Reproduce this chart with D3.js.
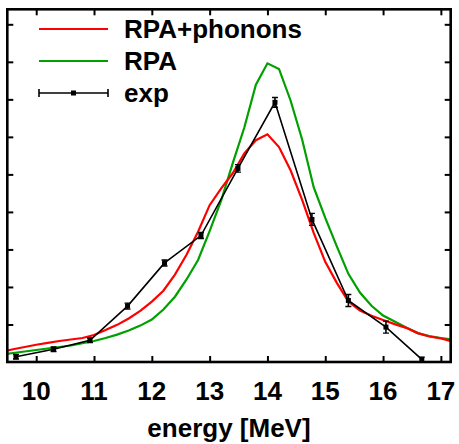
<!DOCTYPE html>
<html><head><meta charset="utf-8">
<script src="https://cdn.jsdelivr.net/npm/d3@7"></script>
<style>body{margin:0;background:#fff}svg{display:block}text{font-family:"Liberation Sans",Arial,sans-serif;font-weight:bold}</style>
</head><body>
<script>
const energyGrid = [9.4,9.6,9.8,10.0,10.2,10.4,10.6,10.8,11.0,11.2,11.4,11.6,11.8,12.0,12.2,12.4,12.6,12.8,13.0,13.2,13.4,13.6,13.8,14.0,14.2,14.4,14.6,14.8,15.0,15.2,15.4,15.6,15.8,16.0,16.2,16.4,16.6,16.8,17.0,17.2];
const rpaPhonons = [0.27,0.34,0.40,0.46,0.51,0.56,0.60,0.64,0.72,0.85,0.99,1.16,1.36,1.61,1.90,2.33,2.86,3.47,4.18,4.63,5.03,5.56,5.91,6.07,5.73,5.11,4.32,3.44,2.67,2.11,1.61,1.37,1.23,1.12,1.01,0.91,0.77,0.68,0.63,0.55];
const rpa = [0.20,0.24,0.28,0.32,0.36,0.40,0.44,0.50,0.56,0.64,0.73,0.84,0.97,1.13,1.40,1.74,2.20,2.72,3.49,4.31,5.30,6.25,7.39,7.96,7.81,6.97,5.93,4.66,3.84,3.08,2.35,1.85,1.50,1.24,1.08,0.92,0.77,0.69,0.64,0.60];
const expEnergy = [9.65,10.30,10.93,11.58,12.22,12.85,13.49,14.13,14.77,15.40,16.05,16.67];
const expValue = [0.14,0.34,0.58,1.49,2.64,3.37,5.16,6.92,3.80,1.64,0.93,0.07];
const expError = [0.06,0.06,0.06,0.08,0.08,0.08,0.1,0.13,0.16,0.16,0.16,0.06];
const xTicks = [10,11,12,13,14,15,16,17];
const yTicks = [1,2,3,4,5,6,7,8,9];
const legendLabels = ["RPA+phonons","RPA","exp"];

const W=459,H=444, L=7.3, R=450.7, T=9.3, B=362;
const svg=d3.select("body").append("svg").attr("width",W).attr("height",H);
const x=d3.scaleLinear().domain([9.5,17.17]).range([L,R]);
const y=d3.scaleLinear().domain([0,9.4]).range([B,T]);

svg.append("clipPath").attr("id","clip").append("rect").attr("x",L).attr("y",T).attr("width",R-L).attr("height",B-T);
const g=svg.append("g").attr("clip-path","url(#clip)");
const line=d3.line().x(d=>x(d[0])).y(d=>y(d[1]));
g.append("path").datum(energyGrid.map((e,i)=>[e,rpa[i]])).attr("d",line).attr("fill","none").attr("stroke","#00a000").attr("stroke-width",2.2);
g.append("path").datum(energyGrid.map((e,i)=>[e,rpaPhonons[i]])).attr("d",line).attr("fill","none").attr("stroke","#ff0000").attr("stroke-width",2.2);
const ex=expEnergy.map((e,i)=>[e,expValue[i],expError[i]]);
g.append("path").datum(ex).attr("d",line).attr("fill","none").attr("stroke","#000").attr("stroke-width",1.6);
const eg=g.selectAll(".eb").data(ex).join("g");
eg.append("line").attr("x1",d=>x(d[0])).attr("x2",d=>x(d[0])).attr("y1",d=>y(d[1]-d[2])).attr("y2",d=>y(d[1]+d[2])).attr("stroke","#000").attr("stroke-width",1.6);
eg.append("line").attr("x1",d=>x(d[0])-3).attr("x2",d=>x(d[0])+3).attr("y1",d=>y(d[1]-d[2])).attr("y2",d=>y(d[1]-d[2])).attr("stroke","#000").attr("stroke-width",1.4);
eg.append("line").attr("x1",d=>x(d[0])-3).attr("x2",d=>x(d[0])+3).attr("y1",d=>y(d[1]+d[2])).attr("y2",d=>y(d[1]+d[2])).attr("stroke","#000").attr("stroke-width",1.4);
eg.append("rect").attr("x",d=>x(d[0])-2.5).attr("y",d=>y(d[1])-2.5).attr("width",5).attr("height",5).attr("fill","#000");

// axes (inward ticks, mirrored)
const tl=6;
svg.append("g").attr("transform",`translate(0,${B})`).call(d3.axisBottom(x).tickValues(xTicks).tickSize(-tl).tickFormat("")).call(a=>a.select(".domain").remove()).selectAll("line").attr("stroke-width",2);
svg.append("g").attr("transform",`translate(0,${T})`).call(d3.axisTop(x).tickValues(xTicks).tickSize(-tl).tickFormat("")).call(a=>a.select(".domain").remove()).selectAll("line").attr("stroke-width",2);
svg.append("g").attr("transform",`translate(${L},0)`).call(d3.axisLeft(y).tickValues(yTicks).tickSize(-tl).tickFormat("")).call(a=>a.select(".domain").remove()).selectAll("line").attr("stroke-width",2);
svg.append("g").attr("transform",`translate(${R},0)`).call(d3.axisRight(y).tickValues(yTicks).tickSize(-tl).tickFormat("")).call(a=>a.select(".domain").remove()).selectAll("line").attr("stroke-width",2);
svg.append("rect").attr("x",L).attr("y",T).attr("width",R-L).attr("height",B-T).attr("fill","none").attr("stroke","#000").attr("stroke-width",2.6);

svg.selectAll(".xl").data(xTicks).join("text").attr("x",d=>x(d)).attr("y",400).attr("text-anchor","middle").attr("font-size",26).text(d=>d);
svg.append("text").attr("x",(L+R)/2).attr("y",437).attr("text-anchor","middle").attr("font-size",26).text("energy [MeV]");

// legend
const ly=[29,61,93], lc=["#ff0000","#00a000","#000"];
legendLabels.forEach((t,i)=>{
  svg.append("line").attr("x1",39).attr("x2",108).attr("y1",ly[i]).attr("y2",ly[i]).attr("stroke",lc[i]).attr("stroke-width",i<2?2.2:1.6);
  svg.append("text").attr("x",124).attr("y",ly[i]+9).attr("font-size",26).text(t);
});
[39,108].forEach(xx=>svg.append("line").attr("x1",xx).attr("x2",xx).attr("y1",ly[2]-4).attr("y2",ly[2]+4).attr("stroke","#000").attr("stroke-width",1.6));
svg.append("rect").attr("x",73.5-2.5).attr("y",ly[2]-2.5).attr("width",5).attr("height",5).attr("fill","#000");
</script>
</body></html>
